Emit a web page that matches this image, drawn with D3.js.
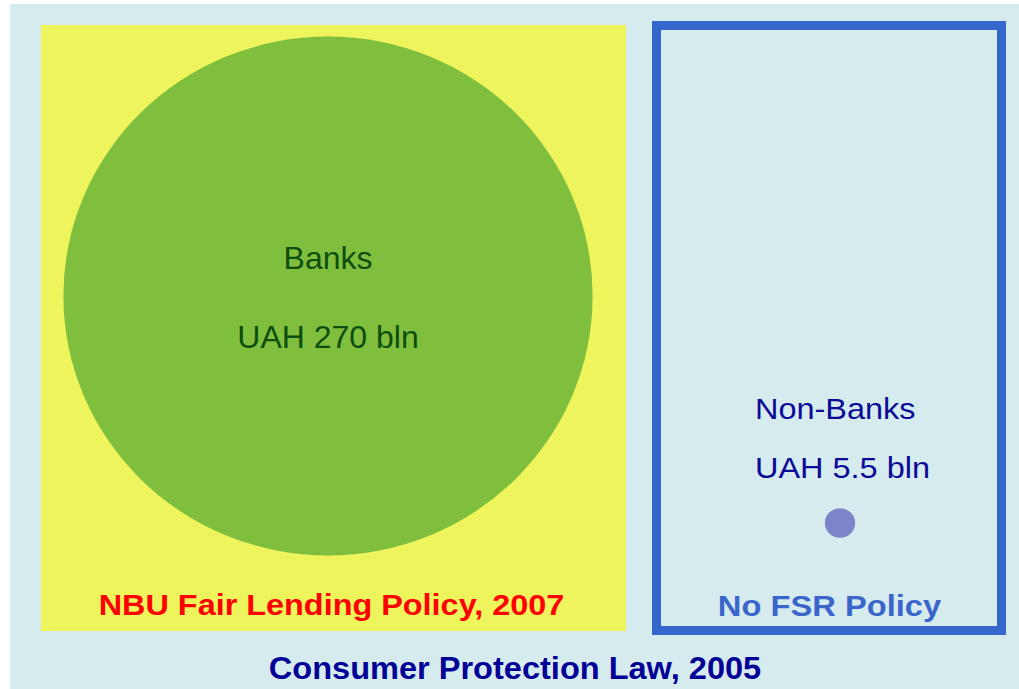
<!DOCTYPE html>
<html>
<head>
<meta charset="utf-8">
<script src="https://cdn.jsdelivr.net/npm/d3@7"></script>
<style>
  html, body { margin: 0; padding: 0; background: #ffffff; }
  svg { display: block; font-family: "Liberation Sans", Arial, sans-serif; }
</style>
</head>
<body>
<div id="chart"></div>
<script>
// loan portfolio by lender type, UAH bln
const segments = ["Banks", "Non-Banks"];
const volumes = [270, 5.5];
const valueLabels = ["UAH 270 bln", "UAH 5.5 bln"];
const policies = ["NBU Fair Lending Policy, 2007", "No FSR Policy"];
const lawLabel = "Consumer Protection Law, 2005";

const svgWidth = 1019, svgHeight = 689;

const svg = d3.select('#chart').append('svg')
  .attr('width', svgWidth)
  .attr('height', svgHeight);

// radius from volume
const rScale = d3.scaleLinear()
  .domain([d3.min(volumes), d3.max(volumes)])
  .range([15, 262]);

// where each segment sits
const cx = d3.scaleOrdinal().domain(segments).range([328, 840]);
const cy = d3.scaleOrdinal().domain(segments).range([296, 523]);

const data = segments.map((s, i) => ({ name: s, value: volumes[i], label: valueLabels[i], policy: policies[i] }));

// background
svg.append('rect')
  .attr('x', 10).attr('y', 4)
  .attr('width', svgWidth - 10).attr('height', svgHeight - 4)
  .attr('fill', '#d6ebee');

// regulated panel (banks)
svg.append('rect')
  .attr('x', 41).attr('y', 25)
  .attr('width', 585).attr('height', 606)
  .attr('fill', '#eef55c');

// unregulated panel (non-banks)
svg.append('rect')
  .attr('x', 656.5).attr('y', 25.5)
  .attr('width', 345).attr('height', 605)
  .attr('fill', 'none')
  .attr('stroke', '#3466cc')
  .attr('stroke-width', 9);

svg.selectAll('ellipse.seg')
  .data(data)
  .enter()
  .append('ellipse')
  .attr('class', 'seg')
  .attr('cx', d => cx(d.name))
  .attr('cy', d => cy(d.name))
  .attr('rx', d => rScale(d.value) * 1.01)
  .attr('ry', d => rScale(d.value) * 0.99)
  .attr('fill', (d, i) => i === 0 ? '#80bf3e' : '#7b85c8');

// labels
const textStyle = [
  { color: '#0d4d0d', anchor: 'middle', x: 328, y1: 269, y2: 348, size: 32, sx: 1 },
  { color: '#0a0a96', anchor: 'start', x: 755, y1: 419, y2: 478, size: 29, sx: 1.12 }
];

function stretchedText(g, txt, x, y, size, sx, anchor, color, weight) {
  g.append('text')
    .attr('transform', `translate(${x},${y}) scale(${sx},1)`)
    .attr('text-anchor', anchor)
    .attr('font-size', size + 'px')
    .attr('font-weight', weight)
    .attr('fill', color)
    .text(txt);
}

data.forEach((d, i) => {
  const s = textStyle[i];
  stretchedText(svg, d.name, s.x, s.y1, s.size, s.sx, s.anchor, s.color, 'normal');
  stretchedText(svg, d.label, s.x, s.y2, s.size, s.sx, s.anchor, s.color, 'normal');
});

// policy captions
stretchedText(svg, policies[0], 331.5, 615, 30, 1.08, 'middle', '#ff0000', 'bold');
stretchedText(svg, policies[1], 829.5, 616, 30, 1.09, 'middle', '#3a66cc', 'bold');
stretchedText(svg, lawLabel, 515, 679, 31, 1.05, 'middle', '#000096', 'bold');
</script>
</body>
</html>
